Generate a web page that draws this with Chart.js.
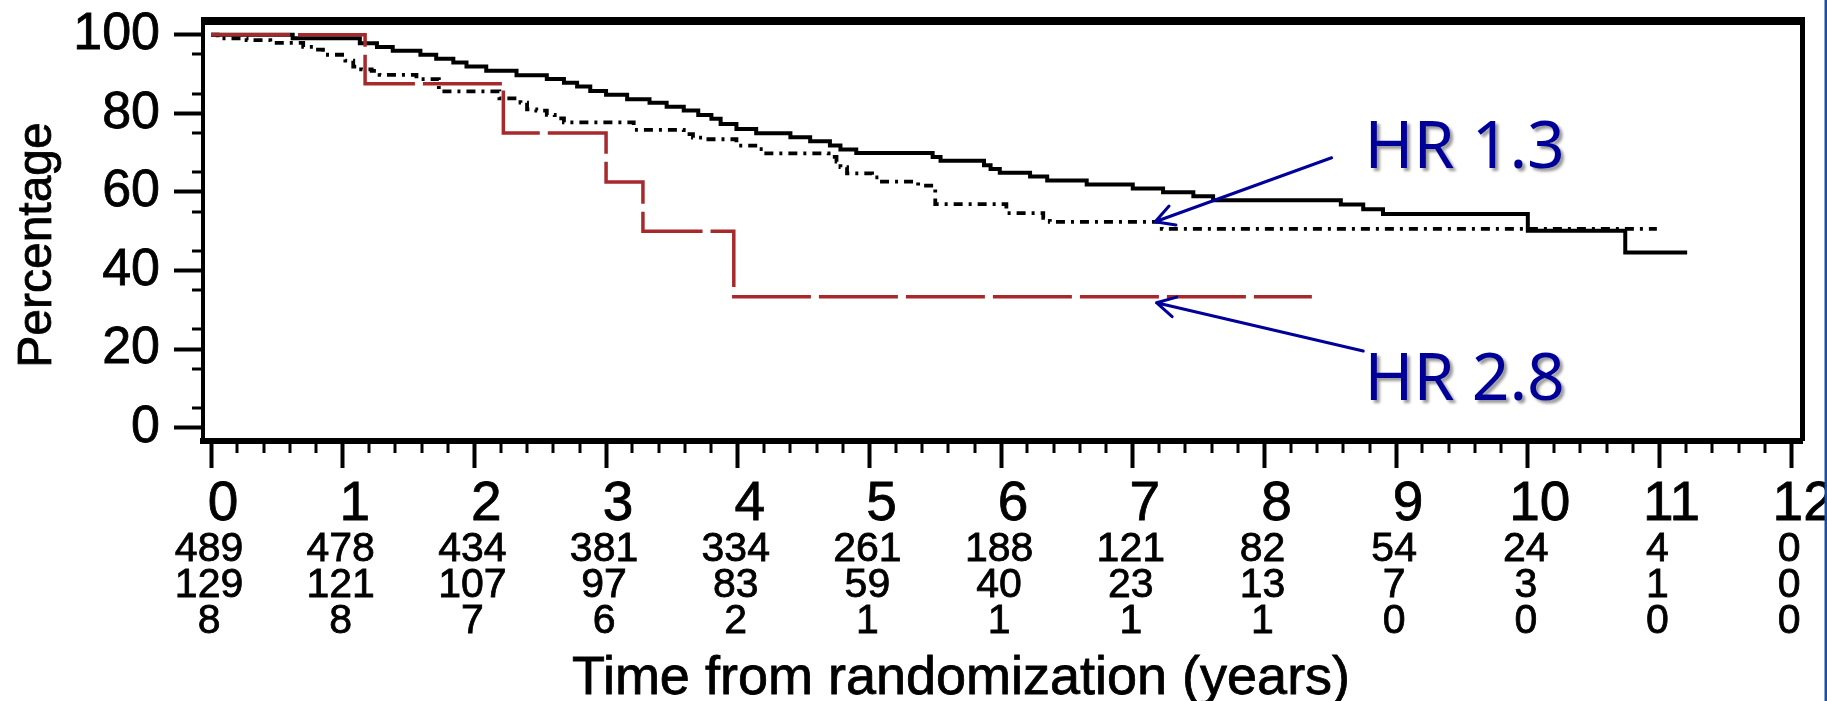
<!DOCTYPE html>
<html lang="en">
<head>
<meta charset="UTF-8">
<title>Survival from randomization</title>
<script src="https://cdn.jsdelivr.net/npm/chart.js"></script>
<style>
  body { margin: 0; background: #fff; }
  #wrap { width: 1827px; height: 701px; }
</style>
</head>
<body>
<div id="wrap"><canvas id="km" width="1827" height="701"></canvas></div>
<script>
// Kaplan-Meier steps: time in years, survival in percent (value starts at that time)
const solidTimes = [0, 0.62, 1.13, 1.26, 1.38, 1.59, 1.71, 1.84, 1.94, 2.09, 2.32, 2.55, 2.68, 2.78, 2.88, 3.00,
  3.16, 3.33, 3.46, 3.59, 3.70, 3.80, 3.87, 3.99, 4.14, 4.40, 4.55, 4.70, 4.78, 4.90, 5.48, 5.54, 5.87, 5.92,
  5.99, 6.22, 6.35, 6.65, 7.00, 7.23, 7.46, 7.61, 8.58, 8.75, 8.90, 10.00, 10.74, 11.21];
const solidPct = [100, 99.1, 97.8, 96.9, 95.9, 94.9, 93.9, 92.9, 91.9, 90.8, 89.7, 88.7, 87.8, 86.8, 85.7, 84.7,
  83.6, 82.7, 81.7, 80.7, 79.6, 78.6, 77.3, 76.0, 74.9, 73.9, 72.9, 71.8, 70.8, 69.9, 68.9, 67.9, 66.8, 65.8,
  64.9, 63.9, 62.9, 61.9, 60.9, 59.9, 58.9, 57.9, 56.8, 55.6, 54.4, 50.1, 44.6, 44.6];

const dottedTimes = [0, 0.05, 0.27, 0.45, 0.70, 0.79, 0.85, 1.02, 1.08, 1.14, 1.22, 1.28, 1.56, 1.73, 2.19, 2.35,
  2.40, 2.47, 2.55, 2.61, 2.68, 3.21, 3.59, 3.66, 3.74, 3.99, 4.16, 4.19, 4.69, 4.75, 4.78, 4.83, 5.02, 5.08,
  5.37, 5.50, 6.04, 6.32, 6.37, 7.22, 10.98];
const dottedPct = [100, 99.1, 98.6, 97.9, 96.9, 96.2, 94.9, 93.4, 91.9, 91.2, 90.8, 89.8, 88.7, 85.6, 83.8, 82.7,
  81.0, 80.7, 79.6, 78.7, 77.7, 75.8, 74.7, 73.8, 73.4, 71.8, 70.9, 69.8, 68.9, 67.7, 66.3, 64.7, 63.7, 62.6,
  61.6, 56.9, 54.6, 53.4, 52.4, 50.6, 50.6];

const redTimes = [0, 1.17, 2.22, 3.00, 3.28, 3.97, 8.36];
const redPct = [100, 87.5, 75, 62.5, 50, 33.3, 33.3];

// axis ticks and numbers at risk under each year
const yearTicks = [0, 1, 2, 3, 4, 5, 6, 7, 8, 9, 10, 11, 12];
const pctTicks = [0, 20, 40, 60, 80, 100];
const atRiskSolid = [489, 478, 434, 381, 334, 261, 188, 121, 82, 54, 24, 4, 0];
const atRiskDotted = [129, 121, 107, 97, 83, 59, 40, 23, 13, 7, 3, 1, 0];
const atRiskRed = [8, 8, 7, 6, 2, 1, 1, 1, 1, 0, 0, 0, 0];

// hazard ratio call-outs: label, text anchor, arrow tail and tip (data units)
const hrText = ['HR 1.3', 'HR 2.8'];
const hrTextAt = [[8.76, 66.1], [8.76, 7.05]];
const hrTail = [[8.51, 68.7], [8.75, 19.5]];
const hrTip = [[7.17, 52.4], [7.18, 31.8]];

const ARIAL = "'Liberation Sans', Arial, sans-serif";
const pts = (xs, ys) => xs.map((t, i) => ({ x: t, y: ys[i] }));

// fill plus a hairline stroke so the small black text reads as heavy as the axis labels
function heavyText(ctx, s, x, y) {
  ctx.fillText(s, x, y);
  ctx.strokeText(s, x, y);
}

const extras = {
  id: 'extras',
  afterDraw(chart) {
    const { ctx, chartArea: a, scales: { x, y } } = chart;
    ctx.save();
    ctx.fillStyle = '#000';
    ctx.strokeStyle = '#000';
    // top and right sides of the frame
    ctx.fillRect(a.left - 2, 17, a.right - a.left + 4.5, 8);
    ctx.fillRect(a.right - 2.5, 17, 5, a.bottom - 17);

    // minor ticks
    for (let i = 1; i < 60; i++) {
      if (i % 5 === 0) continue;
      const px = Math.round(x.getPixelForValue(i / 5));
      ctx.fillRect(px - 1.5, a.bottom, 3, 12);
    }
    for (let v = 5; v < 100; v += 10) {
      const py = Math.round(y.getPixelForValue(v));
      ctx.fillRect(a.left - 11, py - 1.5, 11, 3);
    }

    // numbers at risk
    ctx.lineWidth = 0.8;
    ctx.font = '41px ' + ARIAL;
    ctx.textAlign = 'center';
    ctx.textBaseline = 'alphabetic';
    [atRiskSolid, atRiskDotted, atRiskRed].forEach((row, r) => {
      row.forEach((n, i) => {
        heavyText(ctx, String(n), x.getPixelForValue(yearTicks[i]) - 2, 561 + r * 36);
      });
    });

    // axis titles
    ctx.font = '54px ' + ARIAL;
    heavyText(ctx, 'Time from randomization (years)', 961, 694);
    ctx.save();
    ctx.translate(51, 245);
    ctx.rotate(-Math.PI / 2);
    ctx.font = '48px ' + ARIAL;
    heavyText(ctx, 'Percentage', 0, 0);
    ctx.restore();

    // HR call-outs
    ctx.strokeStyle = '#000099';
    ctx.lineWidth = 3;
    ctx.lineCap = 'round';
    hrText.forEach((label, k) => {
      const tx = x.getPixelForValue(hrTail[k][0]), ty = y.getPixelForValue(hrTail[k][1]);
      const hx = x.getPixelForValue(hrTip[k][0]), hy = y.getPixelForValue(hrTip[k][1]);
      const ang = Math.atan2(ty - hy, tx - hx);
      ctx.beginPath();
      ctx.moveTo(tx, ty);
      ctx.lineTo(hx, hy);
      [-0.5, 0.5].forEach(d => {
        ctx.moveTo(hx, hy);
        ctx.lineTo(hx + 21 * Math.cos(ang + d), hy + 21 * Math.sin(ang + d));
      });
      ctx.stroke();

      ctx.save();
      ctx.font = "66px 'Noto Sans', 'DejaVu Sans', sans-serif";
      ctx.textAlign = 'left';
      ctx.fillStyle = '#000099';
      ctx.shadowColor = 'rgba(0,0,0,0.4)';
      ctx.shadowOffsetX = 3;
      ctx.shadowOffsetY = 3;
      ctx.shadowBlur = 3;
      ctx.fillText(label, x.getPixelForValue(hrTextAt[k][0]), y.getPixelForValue(hrTextAt[k][1]));
      ctx.restore();
    });

    // slide edge on the right
    ctx.fillStyle = '#1b4ea5';
    ctx.fillRect(1824.5, 0, 2.5, 701);
    ctx.restore();
  }
};

new Chart(document.getElementById('km'), {
  type: 'line',
  data: {
    datasets: [
      { data: pts(redTimes, redPct), borderColor: '#a8292b', borderWidth: 3.5, borderDash: [79, 8], order: 1 },
      { data: pts(dottedTimes, dottedPct), borderColor: '#000', borderWidth: 3.8, borderDash: [9, 6, 3, 6], order: 2 },
      { data: pts(solidTimes, solidPct), borderColor: '#000', borderWidth: 4, order: 3 }
    ]
  },
  plugins: [extras],
  options: {
    responsive: false,
    animation: false,
    devicePixelRatio: 1,
    layout: { padding: { top: 21, right: 24.5, left: 0, bottom: 0 } },
    elements: {
      line: { stepped: true, fill: false, borderJoinStyle: 'miter' },
      point: { radius: 0, hoverRadius: 0 }
    },
    plugins: { legend: { display: false }, tooltip: { enabled: false } },
    scales: {
      x: {
        type: 'linear',
        min: -0.061,
        max: 12.086,
        afterBuildTicks: s => { s.ticks = yearTicks.map(v => ({ value: v })); },
        afterFit: s => { s.height = 260; s.paddingLeft = 0; s.paddingRight = 0; },
        grid: { drawOnChartArea: false, tickLength: 27, tickWidth: 4, tickColor: '#000' },
        border: { color: '#000', width: 6 },
        ticks: {
          color: '#000', font: { family: ARIAL, size: 55 }, padding: 4, labelOffset: 12,
          maxRotation: 0, autoSkip: false, textStrokeColor: '#000', textStrokeWidth: 0.8
        }
      },
      y: {
        min: -3.38,
        max: 103.49,
        afterBuildTicks: s => { s.ticks = pctTicks.map(v => ({ value: v })); },
        afterFit: s => { s.width = 203; s.paddingTop = 0; s.paddingBottom = 0; },
        grid: { drawOnChartArea: false, tickLength: 29, tickWidth: 4, tickColor: '#000' },
        border: { color: '#000', width: 4 },
        ticks: { color: '#000', font: { family: ARIAL, size: 52 }, padding: 14, textStrokeColor: '#000', textStrokeWidth: 0.8 }
      }
    }
  }
});
</script>
</body>
</html>
